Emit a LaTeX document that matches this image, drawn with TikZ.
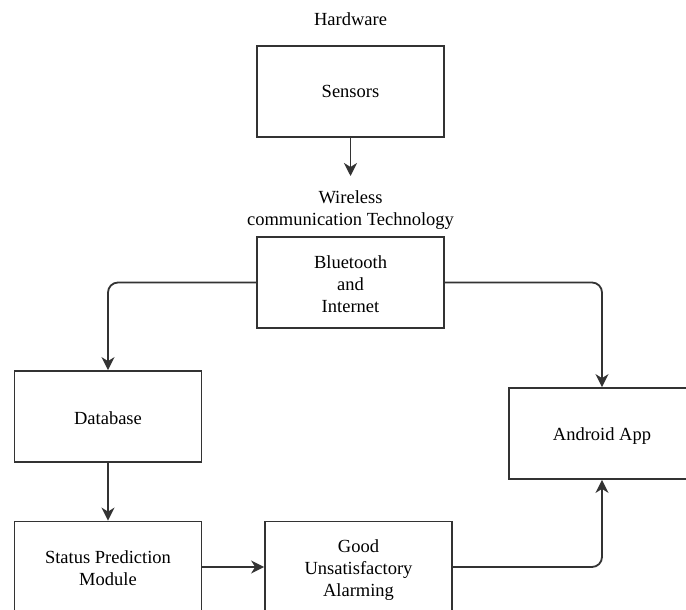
\documentclass[tikz,border=0pt]{standalone}
\usepackage{fontspec}
\setmainfont{Liberation Serif}
\usetikzlibrary{arrows.meta}
\begin{document}
\begin{tikzpicture}[x=1pt,y=-1pt,
  font=\fontsize{18.5}{22}\selectfont,
  box/.style={draw=black!80, line width=1.8pt, rectangle, minimum width=187pt, minimum height=91pt, align=center, inner sep=0pt},
  lbl/.style={align=center, inner sep=0pt},
  arr/.style={draw=black!80, line width=1.8pt, -{Stealth[length=13pt,width=13pt,inset=4pt]}}]
\useasboundingbox (0,0) rectangle (686,610);
\clip (0,0) rectangle (686,610);
\fill[white] (0,0) rectangle (686,610);
\node[lbl] (hw) at (350.5,19) {Hardware};
\node[box] (sensors) at (350.5,91.5) {Sensors};
\coordinate (wlin) at (350.5,176);
\node[lbl] (wl) at (350.5,210) {Wireless\\communication Technology};
\node[box] (bt) at (350.5,282.5) {};
\node[lbl] (btt) at (350.5,284) {Bluetooth\\and\\Internet};
\node[box] (db) at (108,416.5) {};
\node[lbl] (dbt) at (108,418) {Database};
\node[box, minimum width=186pt] (android) at (602,433.5) {};
\node[lbl] (andt) at (602,436) {Android App};
\node[box] (status) at (108,567) {};
\node[lbl] (statust) at (108,568) {Status Prediction\\Module};
\node[box] (good) at (358.5,567) {};
\node[lbl] (goodt) at (358.5,570) {Good\\Unsatisfactory\\Alarming};
\draw[arr] (sensors.south) -- (wlin);
\draw[arr, rounded corners=10pt] (bt.west) -| (db.north);
\draw[arr, rounded corners=10pt] (bt.east) -| (android.north);
\draw[arr] (db.south) -- (status.north);
\draw[arr] (status.east) -- (good.west);
\draw[arr, rounded corners=10pt] (good.east) -| (android.south);
\end{tikzpicture}
\end{document}
